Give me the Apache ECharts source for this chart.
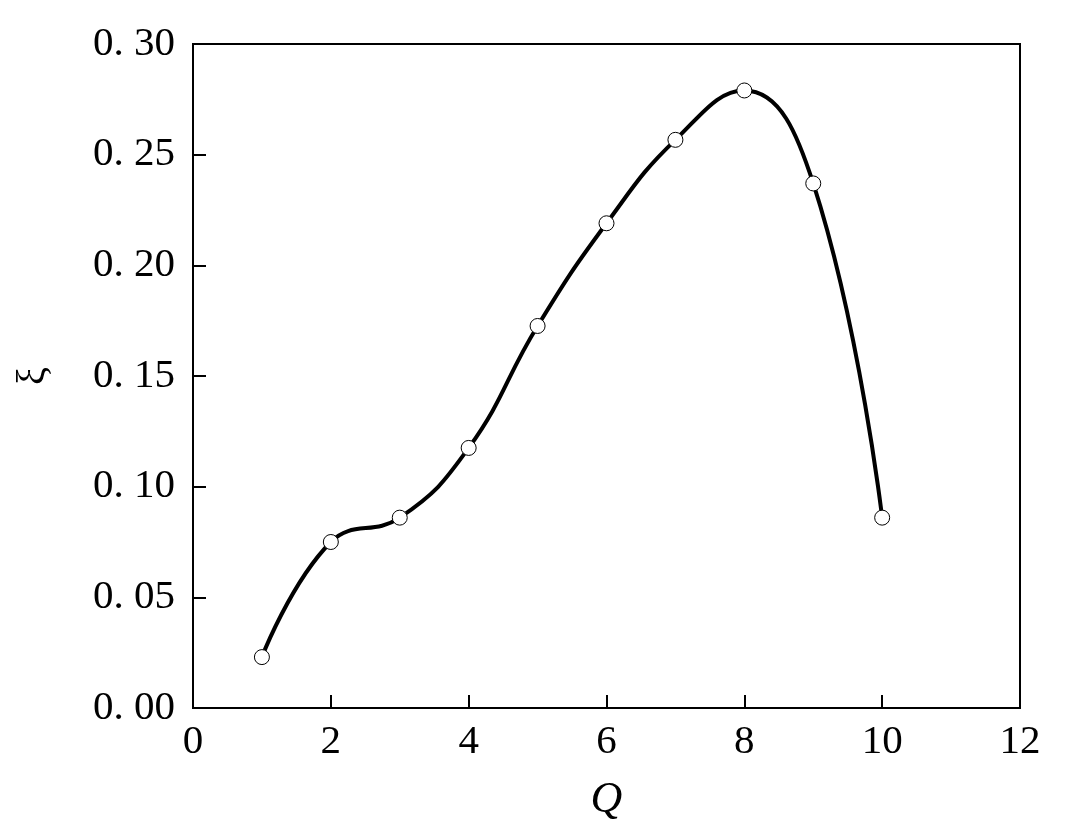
<!DOCTYPE html>
<html>
<head>
<meta charset="utf-8">
<script src="https://cdn.jsdelivr.net/npm/echarts@6/dist/echarts.min.js"></script>
<style>
  html, body { margin: 0; padding: 0; background: #fff; }
  #chart { width: 1073px; height: 834px; }
</style>
</head>
<body>
<div id="chart"></div>
<script>
const qValues = [1, 2, 3, 4, 5, 6, 7, 8, 9, 10];
const xiValues = [0.023, 0.075, 0.086, 0.1175, 0.1726, 0.219, 0.2567, 0.279, 0.237, 0.086];

const chart = echarts.init(document.getElementById("chart"));
const font = "'Liberation Serif', 'DejaVu Serif', serif";

chart.setOption({
  animation: false,
  grid: {
    left: 193, top: 44, right: 53, bottom: 126,
    outerBoundsMode: "none",
    containLabel: false,
    show: true, borderColor: "#000", borderWidth: 2,
  },
  xAxis: {
    type: "value",
    min: 0, max: 12, interval: 2,
    name: "Q",
    nameLocation: "middle",
    nameGap: 70,
    nameTextStyle: { fontFamily: font, fontStyle: "italic", fontSize: 44, color: "#000" },
    axisLine: { show: true, lineStyle: { color: "#000", width: 2 } },
    axisTick: { show: true, inside: true, length: 13, lineStyle: { color: "#000", width: 2 } },
    axisLabel: { fontFamily: font, fontSize: 41, color: "#000", margin: 14 },
    splitLine: { show: false },
  },
  yAxis: {
    type: "value",
    min: 0, max: 0.3, interval: 0.05,
    name: "ξ",
    nameLocation: "middle",
    nameGap: 140,
    nameRotate: 90,
    nameTextStyle: { fontFamily: font, fontSize: 40, color: "#000" },
    axisLine: { show: true, lineStyle: { color: "#000", width: 2 } },
    axisTick: { show: true, inside: true, length: 13, lineStyle: { color: "#000", width: 2 } },
    axisLabel: {
      fontFamily: font, fontSize: 41, color: "#000", margin: 18,
      formatter: (v) => v.toFixed(2).replace(".", ". "),
    },
    splitLine: { show: false },
  },
  series: [
    {
      type: "line",
      data: qValues.map((q, i) => [q, xiValues[i]]),
      smooth: 0.45,
      lineStyle: { color: "#000", width: 4 },
      symbol: "circle",
      symbolSize: 15,
      itemStyle: { color: "#fff", borderColor: "#000", borderWidth: 1 },
    },
  ],
});
</script>
</body>
</html>
